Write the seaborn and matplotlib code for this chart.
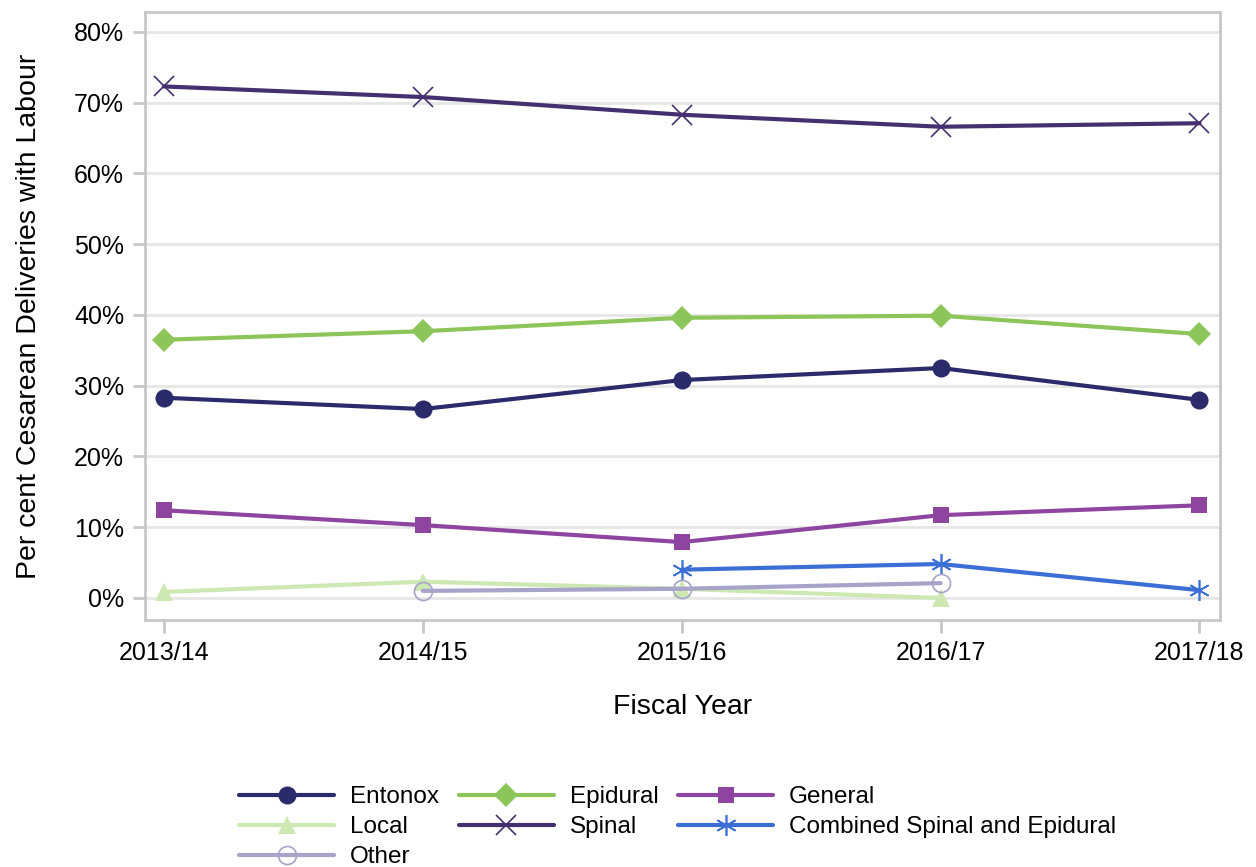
import numpy as np
import pandas as pd
import matplotlib
matplotlib.use("Agg")
import matplotlib.pyplot as plt
import seaborn as sns
from matplotlib.ticker import FuncFormatter

years = ["2013/14", "2014/15", "2015/16", "2016/17", "2017/18"]
entonox = [28.3, 26.7, 30.8, 32.5, 28.0]
epidural = [36.5, 37.7, 39.6, 39.9, 37.3]
general = [12.4, 10.3, 7.9, 11.7, 13.1]
local = [0.85, 2.3, 1.3, 0.0, np.nan]
spinal = [72.3, 70.8, 68.3, 66.6, 67.1]
combined = [np.nan, np.nan, 4.0, 4.8, 1.1]
other = [np.nan, 1.0, 1.3, 2.1, np.nan]

series_names = ["Entonox", "Epidural", "General", "Local", "Spinal",
                "Combined Spinal and Epidural", "Other"]
series_values = [entonox, epidural, general, local, spinal, combined, other]
colors = ["#2b2a6b", "#8cc65a", "#8e45a0", "#cde8b3", "#44306e", "#3c6fd6", "#a7a3c9"]
markers = ["o", "D", "s", "^", "x", (6, 2, 0), "o"]
msizes = [13, 12, 12, 13, 15, 15, 13]
filled = [True, True, True, True, False, False, False]

rows = []
for name, vals in zip(series_names, series_values):
    for i, v in enumerate(vals):
        rows.append({"series": name, "x": i, "year": years[i], "value": v})
df = pd.DataFrame(rows)

sns.set_style("white")
plt.rcParams['font.family'] = ['Liberation Sans', 'DejaVu Sans']
plt.rcParams['text.color'] = 'black'
plt.rcParams['axes.labelcolor'] = 'black'
plt.rcParams['xtick.color'] = 'black'
plt.rcParams['ytick.color'] = 'black'

fig, ax = plt.subplots(figsize=(12.56, 8.67), dpi=100)
fig.subplots_adjust(left=0.1155, right=0.9715, top=0.986, bottom=0.285)

handles = {}
for name, c, m, ms, f in zip(series_names, colors, markers, msizes, filled):
    sub = df[(df.series == name)].dropna(subset=["value"])
    sns.lineplot(data=sub, x="x", y="value", ax=ax, color=c, linewidth=3,
                 marker=m, markersize=ms,
                 markerfacecolor=(c if f else "none"),
                 markeredgecolor=c, markeredgewidth=(0 if f else 1.2),
                 label=name, legend=False, zorder=3)
    handles[name] = ax.get_lines()[-1]

ax.set_xlim(-0.073, 4.08)
ax.set_ylim(-3.1, 82.8)
ax.set_yticks(np.arange(0, 81, 10))
ax.yaxis.set_major_formatter(FuncFormatter(lambda v, p: f"{int(v)}%"))
ax.set_xticks(range(5))
ax.set_xticklabels(years)
ax.grid(axis="y", color="#e6e6e6", linewidth=2)
ax.set_axisbelow(True)
for s in ax.spines.values():
    s.set_color("#c8c8c8")
    s.set_linewidth(2)
ax.tick_params(axis="x", direction="out", length=9, width=2, color="#c8c8c8",
               labelsize=18, pad=6, bottom=True)
ax.tick_params(axis="y", direction="out", length=9, width=2, color="#c8c8c8",
               labelsize=18, pad=6, left=True)
ax.set_xlabel("Fiscal Year", fontsize=20.5, labelpad=21)
ax.set_ylabel("Per cent Cesarean Deliveries with Labour", fontsize=20.5, labelpad=23)

order = ["Entonox", "Local", "Other", "Epidural", "Spinal", "General",
         "Combined Spinal and Epidural"]
leg = fig.legend([handles[n] for n in order], order, loc="lower left",
                 bbox_to_anchor=(0.1807, -0.0155), borderpad=0,
                 ncol=3, frameon=False, fontsize=17.5, handlelength=3.9,
                 columnspacing=0.82, handletextpad=0.66, labelspacing=0.33)

fig.savefig("out.png", dpi=100)
